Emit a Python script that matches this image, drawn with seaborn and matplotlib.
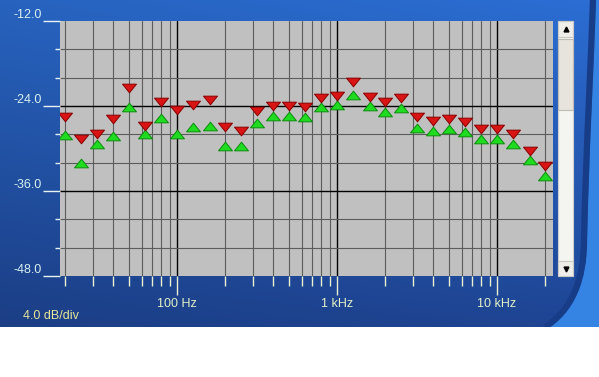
import numpy as np
import pandas as pd
import matplotlib
matplotlib.use("Agg")
import matplotlib.pyplot as plt
import seaborn as sns
from matplotlib.path import Path
from matplotlib.patches import Rectangle, PathPatch
from matplotlib.ticker import FixedLocator, NullFormatter

# ---------------- data ----------------
freqs = [20, 25, 31.5, 40, 50, 63, 80, 100, 125, 160, 200, 250, 315, 400, 500,
         630, 800, 1000, 1250, 1600, 2000, 2500, 3150, 4000, 5000, 6300, 8000,
         10000, 12500, 16000, 20000]
peak_db = [-25.5, -28.7, -28.0, -25.9, -21.4, -26.8, -23.5, -24.6, -23.9, -23.2,
           -27.0, -27.5, -24.7, -24.0, -24.0, -24.1, -22.9, -22.6, -20.6, -22.7,
           -23.5, -22.9, -25.5, -26.1, -25.9, -26.2, -27.3, -27.3, -28.0, -30.3,
           -32.5]
low_db = [-28.1, -32.0, -29.3, -28.3, -24.2, -28.0, -25.7, -27.9, -26.9, -26.8,
          -29.7, -29.6, -26.4, -25.4, -25.4, -25.5, -24.2, -23.9, -22.5, -24.0,
          -24.9, -24.3, -27.1, -27.5, -27.3, -27.6, -28.7, -28.7, -29.4, -31.6,
          -33.9]
y_major_ticks = [-12, -24, -36, -48]
y_major_labels = ["-12.0", "-24.0", "-36.0", "-48.0"]
y_minor_ticks = [-16, -20, -28, -32, -40, -44]
x_major_ticks = [100, 1000, 10000]
x_major_labels = ["100 Hz", "1 kHz", "10 kHz"]
x_minor_ticks = [20, 30, 40, 50, 60, 70, 80, 90,
                 200, 300, 400, 500, 600, 700, 800, 900,
                 2000, 3000, 4000, 5000, 6000, 7000, 8000, 9000, 20000]
scale_text = "4.0 dB/div"

df = pd.DataFrame({"freq": freqs, "peak": peak_db, "low": low_db})

# ---------------- figure ----------------
W, H = 599, 377
sns.set_style("white")
plt.rcParams["font.family"] = ["Liberation Sans", "DejaVu Sans"]
fig = plt.figure(figsize=(W / 100, H / 100), dpi=100)
fig.patch.set_facecolor("white")

def fx(px):
    return px / W

def fy(py):
    return 1 - py / H

BLUE_H = 327
# background panel in pixel coordinates (y downward)
bg = fig.add_axes([0, fy(BLUE_H), 1, BLUE_H / H])
bg.set_xlim(0, W)
bg.set_ylim(BLUE_H, 0)
bg.axis("off")
ny, nx = 200, 300
t = np.linspace(0, 1, ny)[:, None, None]
s = np.linspace(0, 1, nx)[None, :, None]
top = np.array([0.17, 0.43, 0.83])
bottom = np.array([0.12, 0.27, 0.58])
img = top * (1 - t) + bottom * t
img = img * (0.90 + 0.10 * s)
img = np.clip(img, 0, 1)
bg.imshow(img, aspect="auto", extent=[0, W, BLUE_H, 0], zorder=0)

# lighter blue region on the right, bounded by a dark curved band
verts = [(596, 0), (599, 0), (599, BLUE_H), (548, BLUE_H),
         (575, 310), (587, 280), (587, 240),
         (589, 150), (594, 60), (596, 0), (596, 0)]
codes = [Path.MOVETO, Path.LINETO, Path.LINETO, Path.LINETO,
         Path.CURVE4, Path.CURVE4, Path.CURVE4,
         Path.CURVE4, Path.CURVE4, Path.CURVE4, Path.CLOSEPOLY]
bg.add_patch(PathPatch(Path(verts, codes), fc="#3584e4", ec="none", zorder=1))
edge = Path([(593, 0), (591, 60), (586, 150), (584, 240),
             (584, 280), (572, 310), (545, BLUE_H)],
            [Path.MOVETO, Path.CURVE4, Path.CURVE4, Path.CURVE4,
             Path.CURVE4, Path.CURVE4, Path.CURVE4])
bg.add_patch(PathPatch(edge, fc="none", ec="#173c88", lw=4.5, zorder=2))

# scrollbar
bg.add_patch(Rectangle((558, 21), 15, 255, fc="#f4f4f0", ec="#cfcfcf", lw=0.8, zorder=2))
bg.add_patch(Rectangle((558, 21), 15, 16, fc="#efeee8", ec="#c8c8c4", lw=0.8, zorder=3))
bg.add_patch(Rectangle((558, 39), 15, 71, fc="#e6e4dc", ec="#bdbbb2", lw=0.8, zorder=3))
bg.add_patch(Rectangle((558, 261), 15, 15, fc="#efeee8", ec="#c8c8c4", lw=0.8, zorder=3))
bg.plot([565.5], [29], marker="^", ms=3.5, color="black", zorder=4)
bg.plot([565.5], [268.5], marker="v", ms=3.5, color="black", zorder=4)

bg.text(23, 316, scale_text, color="#e6e69a", fontsize=9, ha="left", va="center")

# ---------------- main plot ----------------
ax = fig.add_axes([fx(60), fy(276), fx(493), 255 / H])
ax.set_facecolor("#c0c0c0")

tri_h = 0.62
down = Path([(-1, tri_h), (1, tri_h), (0, -tri_h), (-1, tri_h)],
            [Path.MOVETO, Path.LINETO, Path.LINETO, Path.CLOSEPOLY])
up = Path([(-1, -tri_h), (1, -tri_h), (0, tri_h), (-1, -tri_h)],
          [Path.MOVETO, Path.LINETO, Path.LINETO, Path.CLOSEPOLY])
msize = (14 * 0.72) ** 2

sns.scatterplot(data=df, x="freq", y="low", ax=ax, marker=up, s=msize,
                color="#20dc20", edgecolor="#0c8c0c", linewidth=0.7, zorder=5)
sns.scatterplot(data=df, x="freq", y="peak", ax=ax, marker=down, s=msize,
                color="#d81414", edgecolor="#8a0000", linewidth=0.7, zorder=6)

ax.set_xscale("log")
ax.set_xlim(10 ** (2 - 117 / 160), 10 ** (4 + 56 / 160))
ax.set_ylim(-48, -12)
ax.set_xlabel("")
ax.set_ylabel("")
for sp in ax.spines.values():
    sp.set_visible(False)

ax.xaxis.set_major_locator(FixedLocator(x_major_ticks))
ax.xaxis.set_minor_locator(FixedLocator(x_minor_ticks))
ax.set_xticklabels(x_major_labels)
ax.xaxis.set_minor_formatter(NullFormatter())
ax.yaxis.set_major_locator(FixedLocator(y_major_ticks))
ax.yaxis.set_minor_locator(FixedLocator(y_minor_ticks))
ax.set_yticklabels(y_major_labels)

tick_col = "#e8f0d0"
ax.tick_params(axis="both", which="both", bottom=True, left=True, top=False, right=False)
ax.tick_params(axis="x", which="major", direction="out", length=19 * 0.72, width=1,
               color=tick_col, pad=2, labelsize=9, labelcolor="#e2f0c8")
ax.tick_params(axis="x", which="minor", direction="out", length=10 * 0.72, width=1,
               color=tick_col)
ax.tick_params(axis="y", which="major", direction="out", length=17 * 0.72, width=1,
               color="#e8f4f4", pad=1, labelsize=9, labelcolor="#d8f0f0")
ax.tick_params(axis="y", which="minor", direction="out", length=5 * 0.72, width=1,
               color="#e8f4f4")
for lab in ax.get_yticklabels():
    lab.set_verticalalignment("bottom")

ax.grid(which="major", color="black", lw=1.0, zorder=1)
ax.grid(which="minor", color="#5c5c5c", lw=0.8, zorder=1)
ax.set_axisbelow(True)
yticks = ax.yaxis.get_major_ticks()
yticks[0].gridline.set_visible(False)
yticks[-1].gridline.set_visible(False)

fig.savefig("out.png", dpi=100, facecolor="white")
